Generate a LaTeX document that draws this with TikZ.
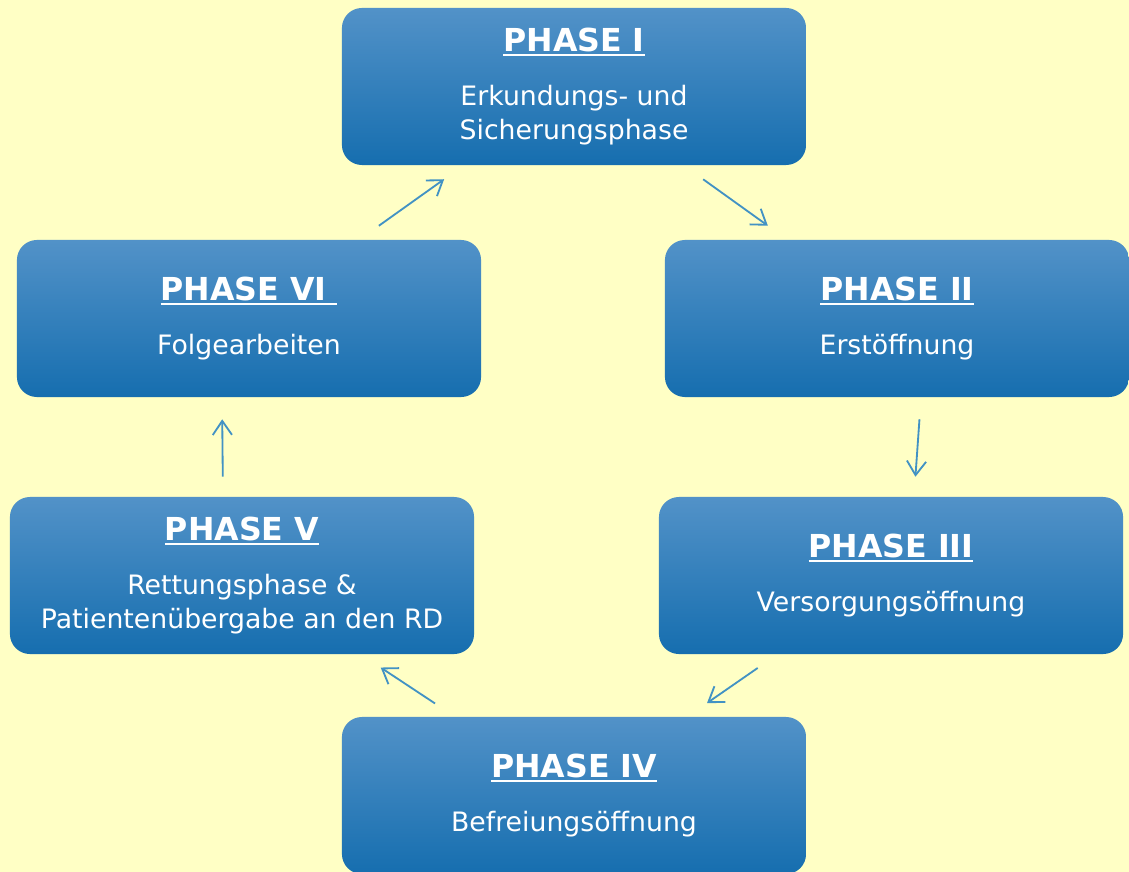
\documentclass[tikz,border=0pt]{standalone}
\usepackage{fontspec}
\setmainfont{DejaVu Sans}
\usetikzlibrary{arrows.meta}

\definecolor{hintergrund}{RGB}{255,255,197}
\definecolor{phaseoben}{RGB}{82,146,200}
\definecolor{phaseunten}{RGB}{22,110,175}
\definecolor{pfeilblau}{RGB}{66,146,196}

% Titel: fett, unterstrichen
\newcommand{\phasetitel}[1]{{\fontsize{22.5}{28}\selectfont\bfseries
  \setbox0\hbox{#1}\rlap{\rule[-3.5pt]{\wd0}{1.3pt}}\box0}}

\begin{document}
\begin{tikzpicture}[x=0.025cm, y=-0.025cm,
    phase/.style={rectangle, rounded corners=0.5cm, top color=phaseoben,
      bottom color=phaseunten, minimum width=11.6cm, minimum height=3.925cm,
      text=white, align=center, font=\fontsize{19}{24.5}\selectfont},
    pfeil/.style={draw=pfeilblau, line width=1.3pt,
      -{Straight Barb[length=3.5mm, width=4.8mm]},
      shorten >=0.6cm, shorten <=0.6cm}]
    % Hintergrund
    \fill[hintergrund] (0,0) rectangle (1129,872);
    \useasboundingbox (0,0) rectangle (1129,872);

    % Phasen
    \node[phase] (i) at (574,86.5) {\phasetitel{PHASE I}\\[14pt]
      Erkundungs- und\\ Sicherungsphase};
    \node[phase] (ii) at (897,318.5) {\phasetitel{PHASE II}\\[14pt]
      Erstöffnung};
    \node[phase] (iii) at (891,575.5) {\phasetitel{PHASE III}\\[14pt]
      Versorgungsöffnung};
    \node[phase] (iv) at (574,795.5) {\phasetitel{PHASE IV}\\[14pt]
      Befreiungsöffnung};
    \node[phase] (v) at (242,575.5) {\phasetitel{PHASE V}\\[14pt]
      Rettungsphase \&\\ Patientenübergabe an den RD};
    \node[phase] (vi) at (249,318.5) {\phasetitel{PHASE VI\ }\\[14pt]
      Folgearbeiten};

    % Kreislauf
    \draw[pfeil] (i) -- (ii);
    \draw[pfeil, shorten >=0.5cm, shorten <=0.55cm]
      ([xshift=0.6cm]ii.south) -- ([xshift=0.575cm]iii.north);
    \draw[pfeil] (iii) -- (iv);
    \draw[pfeil] (iv) -- (v);
    \draw[pfeil, shorten >=0.55cm, shorten <=0.5cm]
      ([xshift=-0.475cm]v.north) -- ([xshift=-0.675cm]vi.south);
    \draw[pfeil] (vi) -- (i);
\end{tikzpicture}
\end{document}
